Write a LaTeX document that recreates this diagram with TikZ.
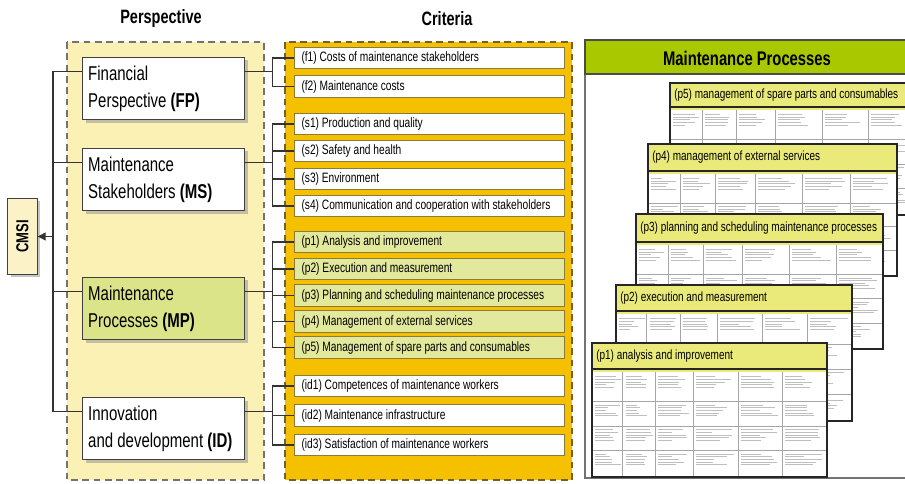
\documentclass[tikz,border=0pt]{standalone}
\usepackage{fontspec}
\setmainfont[FakeStretch=0.75]{Liberation Sans}
\usepackage{xcolor}
\usepackage{graphicx}
\usepackage{tikz}
\usetikzlibrary{positioning,calc,shadows,arrows.meta}

\definecolor{perspbg}{HTML}{FBF1B4}
\definecolor{critbg}{HTML}{F4C000}
\definecolor{procfill}{HTML}{DCE48A}
\definecolor{critproc}{HTML}{E2E99C}
\definecolor{headgreen}{HTML}{A9C800}
\definecolor{cardyellow}{HTML}{EAEA7A}
\definecolor{critline}{HTML}{8C7A3A}
\definecolor{cmsifill}{HTML}{FBF2C8}

\begin{document}
\begin{tikzpicture}[
    x=0.75pt, y=-0.75pt,
    colframe/.style={dashed, dash pattern=on 5pt off 3.5pt, line width=1.1pt},
    tightspace/.style={execute at begin node={\spaceskip=0pt\xspaceskip=0pt}},
    persp/.style={rectangle, draw=black!75, line width=0.8pt, fill=white, text width=113pt, inner xsep=4.5pt, minimum height=47pt, align=left, tightspace, font=\fontsize{15}{20}\selectfont, drop shadow={shadow xshift=2.5pt, shadow yshift=-2.5pt, fill=black!45}},
    crit/.style={rectangle, draw=critline, line width=0.6pt, fill=white, text width=192pt, inner xsep=5pt, minimum height=16pt, align=left, tightspace, font=\fontsize{10.2}{12}\selectfont},
    link/.style={draw=black!80, line width=0.8pt},
    coltitle/.style={font=\fontsize{14.5}{16}\selectfont\bfseries},
    cell/.style={draw=black!35, line width=0.3pt},
    scribble/.style={draw=black!25, line width=0.45pt},
    cardline/.style={draw=black!85, line width=1.3pt},
    cardtitle/.style={anchor=west, inner sep=0pt, font=\fontsize{10}{12}\selectfont},
]
\useasboundingbox (0,0) rectangle (905,484);

% Column frames
\draw[colframe, draw=black!55, fill=perspbg] (67,42) rectangle (264,480);
\draw[colframe, draw=critline!80!black, fill=critbg] (285,42) rectangle (572,480);
\node[coltitle] (ptitle) at (161,19) {Perspective};
\node[coltitle] (ctitle) at (447,19) {Criteria};

% Perspectives
\node[persp] (fp) at (163.5,88.5) {Financial\\Perspective \textbf{(FP)}};
\node[persp] (ms) at (163.5,179.5) {Maintenance\\Stakeholders \textbf{(MS)}};
\node[persp, fill=procfill] (mp) at (163.5,308.5) {Maintenance\\Processes \textbf{(MP)}};
\node[persp] (id) at (163.5,428.5) {Innovation\\and development \textbf{(ID)}};

\node[rectangle, draw=black!75, line width=0.8pt, fill=cmsifill, minimum width=22pt, minimum height=57pt, inner sep=0pt, drop shadow={shadow xshift=2pt, shadow yshift=-2pt, fill=black!45}] (cmsi) at (22.5,236.5) {\rotatebox{90}{\fontsize{13}{14}\selectfont\bfseries CMSI}};

% Criteria
\node[crit] (f1) at (429.5,58) {(f1) Costs of maintenance stakeholders};
\node[crit] (f2) at (429.5,86.5) {(f2) Maintenance costs};
\node[crit] (s1) at (429.5,124) {(s1) Production and quality};
\node[crit] (s2) at (429.5,151) {(s2) Safety and health};
\node[crit] (s3) at (429.5,179) {(s3) Environment};
\node[crit] (s4) at (429.5,206) {(s4) Communication and cooperation with stakeholders};
\node[crit, fill=critproc] (p1) at (429.5,242) {(p1) Analysis and improvement};
\node[crit, fill=critproc] (p2) at (429.5,269) {(p2) Execution and measurement};
\node[crit, fill=critproc] (p3) at (429.5,295.5) {(p3) Planning and scheduling maintenance processes};
\node[crit, fill=critproc] (p4) at (429.5,321.5) {(p4) Management of external services};
\node[crit, fill=critproc] (p5) at (429.5,347.5) {(p5) Management of spare parts and consumables};
\node[crit] (id1) at (429.5,386) {(id1) Competences of maintenance workers};
\node[crit] (id2) at (429.5,415.5) {(id2) Maintenance infrastructure};
\node[crit] (id3) at (429.5,445) {(id3) Satisfaction of maintenance workers};

% Connectors
\coordinate (trunk) at (53,236.5);
\foreach \p in {fp,ms,mp,id}
    \draw[link] ($(\p.north west)+(0,15)$) -| (trunk);
\draw[link, -{Triangle[length=6pt,width=6pt]}] (trunk) -- (trunk -| cmsi.east);

\draw[link] ($(fp.north east)+(0,15)$) -- ++(27,0) coordinate (fpj);
\draw[link] (f1.west) -| (fpj) |- (f2.west);
\draw[link] ($(ms.north east)+(0,15)$) -- ++(27,0) coordinate (msj);
\draw[link] (s1.west) -| (msj) |- (s4.west);
\foreach \c in {s2,s3}
    \draw[link] (\c.west) -- (\c.west -| msj);
\draw[link] ($(mp.north east)+(0,15)$) -- ++(27,0) coordinate (mpj);
\draw[link] (p1.west) -| (mpj) |- (p5.west);
\foreach \c in {p2,p3,p4}
    \draw[link] (\c.west) -- (\c.west -| mpj);
\draw[link] ($(id.north east)+(0,15)$) -- ++(27,0) coordinate (idj);
\draw[link] (id1.west) -| (idj) |- (id3.west);
\draw[link] (id2.west) -- (id2.west -| idj);

% Maintenance processes panel
\draw[draw=black!55, line width=0.8pt, fill=white] (585,40) rectangle (912,478);
\fill[headgreen] (585,40) rectangle (912,74);
\draw[draw=black!70, line width=0.8pt] (585,40) rectangle (912,74);
\node[font=\fontsize{14.8}{16}\selectfont\bfseries] (mphead) at (747,58) {Maintenance Processes};

\pgfmathsetseed{11}
\foreach \nm/\xl/\yt/\xr/\yh/\yb/\lab in {
    card5/670/83/915/107/215/{(p5) management of spare parts and consumables},
    card4/648/144/897/171/276/{(p4) management of external services},
    card3/636/214/883/242/349/{(p3) planning and scheduling maintenance processes},
    card2/616/285/852/311/421/{(p2) execution and measurement},
    card1/592/343/827/369/477/{(p1) analysis and improvement}}
{
    \fill[white] (\xl,\yt) rectangle (\xr,\yb);
    \fill[cardyellow] (\xl,\yh) rectangle (\xr,\yh+3);
    \foreach \fa/\fb in {0/0.13,0.13/0.27,0.27/0.43,0.43/0.62,0.62/0.81,0.81/1}{
        \draw[cell] ({\xl+\fa*(\xr-\xl)},\yh+3) -- ({\xl+\fa*(\xr-\xl)},\yb);
        \foreach \ga in {0,0.28,0.52,0.76}{
            \foreach \k in {1,...,5}{
                \pgfmathsetmacro\xa{\xl+\fa*(\xr-\xl)+3}
                \pgfmathsetmacro\xb{\xa+(\fb-\fa)*(\xr-\xl)*(0.35+0.5*rnd)}
                \pgfmathsetmacro\yy{\yh+5+\ga*(\yb-\yh-6)+2.6*\k}
                \draw[scribble] (\xa,\yy) -- (\xb,\yy);
            }
        }
    }
    \foreach \ga in {0.28,0.52,0.76}
        \draw[cell] (\xl,{\yh+4+\ga*(\yb-\yh-6)}) -- (\xr,{\yh+4+\ga*(\yb-\yh-6)});
    \fill[cardyellow] (\xl,\yt) rectangle (\xr,\yh);
    \draw[cardline] (\xl,\yt) rectangle (\xr,\yb);
    \draw[cardline] (\xl,\yh) -- (\xr,\yh);
    \node[cardtitle] (\nm) at (\xl+4,{(\yt+\yh)/2}) {\lab};
}

\end{tikzpicture}
\end{document}
